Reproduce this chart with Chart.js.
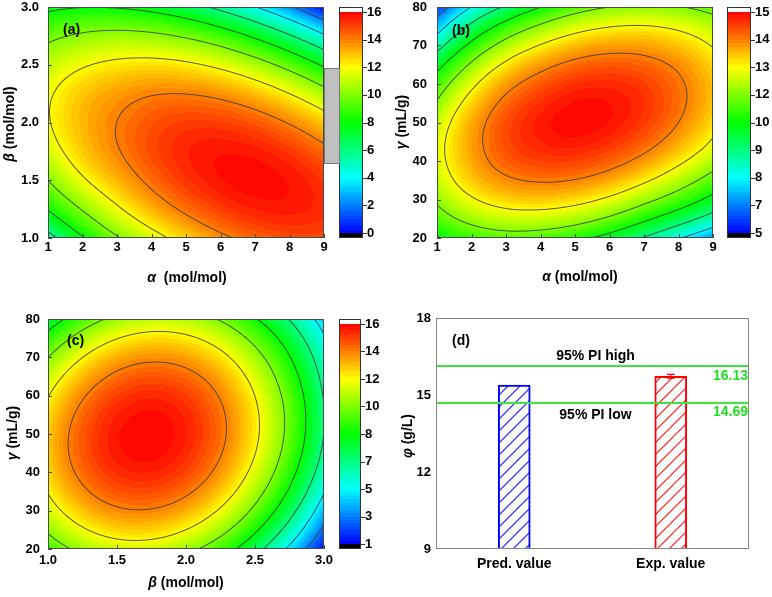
<!DOCTYPE html>
<html>
<head>
<meta charset="utf-8">
<script src="https://cdn.jsdelivr.net/npm/chart.js@4.4.1/dist/chart.umd.min.js"></script>
<style>
  html, body { margin: 0; padding: 0; background: #fff; }
  #wrap { position: relative; width: 772px; height: 597px; }
  canvas { position: absolute; }
</style>
</head>
<body>
<div id="wrap">
  <canvas id="chartA" width="390" height="300" style="left:0;top:0"></canvas>
  <canvas id="chartB" width="382" height="300" style="left:390px;top:0"></canvas>
  <canvas id="chartC" width="390" height="297" style="left:0;top:300px"></canvas>
  <canvas id="chartD" width="382" height="297" style="left:390px;top:300px"></canvas>
</div>
<script>
// ---- panel (a): phi over alpha (columns) and beta (rows, top to bottom)
const aAlpha = [1, 2, 3, 4, 5, 6, 7, 8, 9];
const aBeta = [3.0, 2.75, 2.5, 2.25, 2.0, 1.75, 1.5, 1.25, 1.0];
const aPhi = [
  [7.62, 7.95, 7.89, 7.47, 6.70, 5.56, 4.06, 2.21, 0.00],
  [9.60, 10.21, 10.44, 10.30, 9.80, 8.94, 7.72, 6.15, 4.21],
  [11.00, 11.85, 12.30, 12.44, 12.23, 11.65, 10.71, 9.41, 7.75],
  [11.80, 12.86, 13.50, 13.92, 13.98, 13.68, 13.02, 12.00, 10.62],
  [11.90, 13.10, 14.01, 14.71, 15.05, 15.03, 14.65, 13.91, 12.81],
  [11.30, 12.80, 13.90, 14.84, 15.46, 15.71, 15.61, 15.15, 14.33],
  [10.00, 11.80, 13.13, 14.30, 15.18, 15.72, 15.90, 15.71, 15.17],
  [8.10, 10.10, 11.77, 13.15, 14.25, 15.05, 15.51, 15.60, 15.34],
  [5.30, 7.86, 9.84, 11.35, 12.65, 13.70, 14.44, 14.81, 14.83]
];
const aXLabels = ['1', '2', '3', '4', '5', '6', '7', '8', '9'];
const aYLabels = ['1.0', '1.5', '2.0', '2.5', '3.0'];
const aBarLabels = ['0', '2', '4', '6', '8', '10', '12', '14', '16'];
const aRange = [0, 16];
const aLevels = [2, 4, 6, 8, 10, 12, 14];

// ---- panel (b): phi over alpha (columns) and gamma (rows, top to bottom)
const bAlpha = [1, 2, 3, 4, 5, 6, 7, 8, 9];
const bGamma = [80, 72.5, 65, 57.5, 50, 42.5, 35, 27.5, 20];
const bPhi = [
  [5.80, 7.81, 9.20, 10.29, 11.07, 11.55, 11.72, 11.59, 11.16],
  [7.90, 9.95, 11.36, 12.30, 12.94, 13.27, 13.30, 13.02, 12.44],
  [9.90, 11.70, 12.98, 13.77, 14.26, 14.44, 14.32, 13.90, 13.17],
  [11.30, 12.92, 14.04, 14.68, 15.03, 15.06, 14.80, 14.23, 13.40],
  [12.20, 13.60, 14.55, 15.05, 15.24, 15.13, 14.72, 14.05, 13.10],
  [12.50, 13.70, 14.51, 14.86, 14.91, 14.65, 14.12, 13.35, 12.40],
  [12.20, 13.30, 13.91, 14.12, 14.02, 13.62, 12.95, 12.10, 11.08],
  [11.40, 12.30, 12.77, 12.83, 12.58, 12.03, 11.22, 10.32, 9.30],
  [10.20, 10.80, 11.08, 10.99, 10.59, 9.90, 8.95, 7.89, 6.78]
];
const bXLabels = ['1', '2', '3', '4', '5', '6', '7', '8', '9'];
const bYLabels = ['20', '30', '40', '50', '60', '70', '80'];
const bBarLabels = ['5', '7', '8', '9', '10', '12', '13', '14', '15'];
const bRange = [5.3, 15.3];
const bLevels = [6.55, 7.8, 9.05, 10.3, 11.55, 12.8, 14.05];

// ---- panel (c): phi over beta (columns) and gamma (rows, top to bottom)
const cBeta = [1.0, 1.25, 1.5, 1.75, 2.0, 2.25, 2.5, 2.75, 3.0];
const cGamma = [80, 72.5, 65, 57.5, 50, 42.5, 35, 27.5, 20];
const cPhi = [
  [7.49, 9.47, 10.74, 11.29, 11.11, 10.22, 8.62, 6.55, 4.00],
  [9.73, 11.64, 12.84, 13.32, 13.08, 12.13, 10.45, 8.15, 5.30],
  [11.39, 13.24, 14.38, 14.79, 14.48, 13.46, 11.71, 9.25, 6.15],
  [12.49, 14.27, 15.33, 15.68, 15.30, 14.21, 12.40, 9.87, 6.62],
  [13.01, 14.72, 15.72, 15.99, 15.55, 14.39, 12.52, 9.92, 6.60],
  [12.95, 14.60, 15.53, 15.74, 15.23, 14.00, 12.06, 9.39, 6.01],
  [12.32, 13.90, 14.77, 14.91, 14.33, 13.04, 11.02, 8.29, 4.84],
  [11.12, 12.63, 13.43, 13.50, 12.86, 11.50, 9.42, 6.62, 3.15],
  [9.35, 10.79, 11.52, 11.53, 10.81, 9.38, 7.24, 4.40, 1.10]
];
const cXLabels = ['1.0', '1.5', '2.0', '2.5', '3.0'];
const cYLabels = ['20', '30', '40', '50', '60', '70', '80'];
const cBarLabels = ['1', '3', '5', '7', '8', '10', '12', '14', '16'];
const cRange = [1, 16];
const cLevels = [2.875, 4.75, 6.625, 8.5, 10.375, 12.25, 14.125];

// ---- panel (d): predicted vs experimental
const dLabels = ['Pred. value', 'Exp. value'];
const dValues = [15.39, 15.73];
const dErrors = [0, 0.07];
const dYLabels = ['9', '12', '15', '18'];
const piHigh = 16.13;
const piLow = 14.69;

const FONT = '"Liberation Sans", Arial, sans-serif';
Chart.defaults.font.family = FONT;
Chart.defaults.color = '#000';

// rainbow colour map like the colour bars
const stops = [[0, [0, 0, 255]], [0.25, [0, 255, 255]], [0.5, [0, 255, 0]], [0.75, [255, 255, 0]], [1, [255, 0, 0]]];
function rainbow(t) {
  t = Math.max(0, Math.min(1, t));
  for (let i = 1; i < stops.length; i++) {
    if (t <= stops[i][0]) {
      const [t0, c0] = stops[i - 1], [t1, c1] = stops[i];
      const f = (t - t0) / (t1 - t0);
      return [c0[0] + (c1[0] - c0[0]) * f, c0[1] + (c1[1] - c0[1]) * f, c0[2] + (c1[2] - c0[2]) * f];
    }
  }
  return stops[stops.length - 1][1];
}
function banded(t) {
  const n = 64;
  const q = Math.min(n - 1, Math.max(0, Math.floor(t * n)));
  return rainbow((q + 0.5) / n);
}

// grid node, extrapolated past the edges
function node(g, r, c) {
  const nr = g.length, nc = g[0].length;
  if (r < 0) return 3 * node(g, 0, c) - 3 * node(g, 1, c) + node(g, 2, c);
  if (r >= nr) return 3 * node(g, nr - 1, c) - 3 * node(g, nr - 2, c) + node(g, nr - 3, c);
  if (c < 0) return 3 * g[r][0] - 3 * g[r][1] + g[r][2];
  if (c >= nc) return 3 * g[r][nc - 1] - 3 * g[r][nc - 2] + g[r][nc - 3];
  return g[r][c];
}
function cubic(p0, p1, p2, p3, t) {
  return p1 + 0.5 * t * (p2 - p0 + t * (2 * p0 - 5 * p1 + 4 * p2 - p3 + t * (3 * (p1 - p2) + p3 - p0)));
}
function sample(g, fx, fy) {
  const nr = g.length, nc = g[0].length;
  const ix = Math.max(0, Math.min(nc - 2, Math.floor(fx)));
  const iy = Math.max(0, Math.min(nr - 2, Math.floor(fy)));
  const tx = fx - ix, ty = fy - iy;
  const r = [];
  for (let k = -1; k <= 2; k++) {
    r.push(cubic(node(g, iy + k, ix - 1), node(g, iy + k, ix), node(g, iy + k, ix + 1), node(g, iy + k, ix + 2), tx));
  }
  return cubic(r[0], r[1], r[2], r[3], ty);
}

function drawTitle(ctx, greek, rest, x, y, rotate) {
  ctx.save();
  ctx.translate(x, y);
  if (rotate) ctx.rotate(-Math.PI / 2);
  const gf = 'italic bold 14px ' + FONT, rf = 'bold 14px ' + FONT;
  ctx.font = gf; const gw = ctx.measureText(greek).width;
  ctx.font = rf; const rw = ctx.measureText(rest).width;
  const x0 = -(gw + rw) / 2;
  ctx.textBaseline = 'middle';
  ctx.textAlign = 'left';
  ctx.fillStyle = '#000';
  ctx.font = gf; ctx.fillText(greek, x0, 0);
  ctx.font = rf; ctx.fillText(rest, x0 + gw, 0);
  ctx.restore();
}

// keep label overhang from moving the plot area
function noPad(s) {
  s.paddingTop = 0; s.paddingBottom = 0; s.paddingLeft = 0; s.paddingRight = 0;
}

function contourPlugin(p) {
  return {
    id: 'contour',
    afterDraw(chart) {
      const { ctx, chartArea: a, scales: { x, y, cb } } = chart;
      const L = Math.round(a.left), T = Math.round(a.top);
      const W = Math.round(a.right) - L, H = Math.round(a.bottom) - T;
      const nc = p.cols.length, nr = p.rows.length;
      const F = new Float32Array(W * H);
      for (let j = 0; j < H; j++) {
        const yv = y.getValueForPixel(T + j + 0.5);
        const fy = (yv - p.rows[0]) / (p.rows[nr - 1] - p.rows[0]) * (nr - 1);
        for (let i = 0; i < W; i++) {
          const xv = x.getValueForPixel(L + i + 0.5);
          const fx = (xv - p.cols[0]) / (p.cols[nc - 1] - p.cols[0]) * (nc - 1);
          F[j * W + i] = sample(p.grid, fx, fy);
        }
      }
      const img = ctx.createImageData(W, H);
      for (let j = 0; j < H; j++) {
        for (let i = 0; i < W; i++) {
          const v = F[j * W + i];
          const c = banded((v - p.range[0]) / (p.range[1] - p.range[0]));
          const gx = (F[j * W + Math.min(i + 1, W - 1)] - F[j * W + Math.max(i - 1, 0)]) / 2;
          const gy = (F[Math.min(j + 1, H - 1) * W + i] - F[Math.max(j - 1, 0) * W + i]) / 2;
          const g = Math.hypot(gx, gy) + 1e-6;
          let al = 0;
          for (const lev of p.levels) {
            const d = Math.abs(v - lev) / g;
            if (d < 1) al = Math.max(al, 1 - d);
          }
          al *= 0.85;
          const k = (j * W + i) * 4;
          img.data[k] = c[0] * (1 - al) + 60 * al;
          img.data[k + 1] = c[1] * (1 - al) + 60 * al;
          img.data[k + 2] = c[2] * (1 - al) + 60 * al;
          img.data[k + 3] = 255;
        }
      }
      const off = document.createElement('canvas');
      off.width = W; off.height = H;
      off.getContext('2d').putImageData(img, 0, 0);
      ctx.drawImage(off, L, T);

      ctx.save();
      // frame and inward ticks
      ctx.strokeStyle = '#4a4a4a';
      ctx.lineWidth = 1;
      ctx.strokeRect(L + 0.5, T + 0.5, W - 1, H - 1);
      ctx.beginPath();
      x.ticks.forEach(t => {
        const px = Math.round(x.getPixelForValue(t.value)) + 0.5;
        ctx.moveTo(px, T + H); ctx.lineTo(px, T + H - 4);
      });
      y.ticks.forEach(t => {
        const py = Math.round(y.getPixelForValue(t.value)) + 0.5;
        ctx.moveTo(L, py); ctx.lineTo(L + 4, py);
      });
      ctx.stroke();

      // colour bar
      const bx = Math.round(a.right) + p.cbGap, bw = p.cbW;
      const n = p.cbLabels.length - 1;
      for (let yy = Math.round(cb.top); yy < Math.round(cb.bottom); yy++) {
        const idx = cb.getValueForPixel(yy + 0.5);
        if (idx > n) ctx.fillStyle = '#fff';
        else if (idx < 0) ctx.fillStyle = '#000';
        else { const c = banded(idx / n); ctx.fillStyle = `rgb(${c[0] | 0},${c[1] | 0},${c[2] | 0})`; }
        ctx.fillRect(bx, yy, bw, 1);
      }
      ctx.strokeStyle = '#333';
      ctx.strokeRect(bx + 0.5, Math.round(cb.top) + 0.5, bw - 1, Math.round(cb.bottom) - Math.round(cb.top) - 1);
      ctx.beginPath();
      cb.ticks.forEach(t => {
        const py = Math.round(cb.getPixelForValue(t.value)) + 0.5;
        ctx.moveTo(bx + bw, py); ctx.lineTo(bx + bw + 4, py);
      });
      ctx.stroke();

      if (p.grayBox) {
        ctx.fillStyle = '#c0c0c0';
        ctx.fillRect(Math.round(a.right) + 1, 68, p.cbGap - 1, 95);
        ctx.strokeStyle = '#7a7a7a';
        ctx.strokeRect(Math.round(a.right) + 0.5, 68.5, p.cbGap, 95);
      }

      // titles and panel tag
      drawTitle(ctx, p.xTitle[0], p.xTitle[1], (a.left + a.right) / 2 + p.xTitleDx, a.bottom + p.xTitleDy, false);
      drawTitle(ctx, p.yTitle[0], p.yTitle[1], p.yTitlePos[0], p.yTitlePos[1], true);
      ctx.fillStyle = '#000';
      ctx.font = 'bold 14px ' + FONT;
      ctx.textAlign = 'left';
      ctx.textBaseline = 'middle';
      ctx.fillText(p.tag, p.tagPos[0], p.tagPos[1]);
      ctx.restore();
    }
  };
}

function contourChart(id, p) {
  const tickFont = { size: 13, weight: 'bold', family: FONT };
  const W = document.getElementById(id).width;
  return new Chart(document.getElementById(id), {
    type: 'scatter',
    data: { datasets: [] },
    options: {
      responsive: false,
      animation: false,
      events: [],
      layout: { padding: { top: p.padTop, left: 0, right: 0, bottom: 0 } },
      plugins: { legend: { display: false }, tooltip: { enabled: false } },
      scales: {
        x: {
          type: 'linear', position: 'bottom',
          min: Math.min(...p.cols), max: Math.max(...p.cols),
          afterBuildTicks: s => { s.ticks = p.xLabels.map(l => ({ value: parseFloat(l) })); },
          ticks: { font: tickFont, color: '#000', padding: p.xTickPad, autoSkip: false, maxRotation: 0,
                   callback: (v, i) => p.xLabels[i] },
          grid: { display: false, drawTicks: false },
          border: { display: false },
          afterFit: s => { s.height = p.xAxisH; noPad(s); }
        },
        y: {
          type: 'linear', position: 'left',
          min: Math.min(...p.rows), max: Math.max(...p.rows),
          afterBuildTicks: s => { s.ticks = p.yLabels.map(l => ({ value: parseFloat(l) })); },
          ticks: { font: tickFont, color: '#000', padding: p.yTickPad, autoSkip: false,
                   callback: (v, i) => p.yLabels[i] },
          grid: { display: false, drawTicks: false },
          border: { display: false },
          afterFit: s => { s.width = p.yAxisW; noPad(s); }
        },
        cb: {
          axis: 'y', type: 'linear', position: 'right',
          min: -0.18, max: p.cbLabels.length - 1 + 0.18,
          afterBuildTicks: s => { s.ticks = p.cbLabels.map((l, i) => ({ value: i })); },
          ticks: { font: tickFont, color: '#000', padding: p.cbGap + p.cbW + 4, autoSkip: false,
                   callback: (v, i) => p.cbLabels[i] },
          grid: { display: false, drawTicks: false },
          border: { display: false },
          afterFit: s => { s.width = W - p.right; noPad(s); }
        }
      }
    },
    plugins: [contourPlugin(p)]
  });
}

contourChart('chartA', {
  cols: aAlpha, rows: aBeta, grid: aPhi, range: aRange, levels: aLevels,
  xLabels: aXLabels, yLabels: aYLabels, cbLabels: aBarLabels,
  padTop: 7, xAxisH: 62, yAxisW: 48, right: 324, xTickPad: 2, yTickPad: 9,
  cbGap: 15, cbW: 24, grayBox: true,
  xTitle: ['α', '  (mol/mol)'], xTitleDx: 1, xTitleDy: 40,
  yTitle: ['β', ' (mol/mol)'], yTitlePos: [10, 124],
  tag: '(a)', tagPos: [63, 30]
});
contourChart('chartB', {
  cols: bAlpha, rows: bGamma, grid: bPhi, range: bRange, levels: bLevels,
  xLabels: bXLabels, yLabels: bYLabels, cbLabels: bBarLabels,
  padTop: 7, xAxisH: 62, yAxisW: 47, right: 323, xTickPad: 2, yTickPad: 10,
  cbGap: 14, cbW: 24, grayBox: false,
  xTitle: ['α', ' (mol/mol)'], xTitleDx: 5, xTitleDy: 39,
  yTitle: ['γ', ' (mL/g)'], yTitlePos: [12, 122],
  tag: '(b)', tagPos: [62, 31]
});
contourChart('chartC', {
  cols: cBeta, rows: cGamma, grid: cPhi, range: cRange, levels: cLevels,
  xLabels: cXLabels, yLabels: cYLabels, cbLabels: cBarLabels,
  padTop: 19, xAxisH: 48, yAxisW: 48, right: 324, xTickPad: 4, yTickPad: 8,
  cbGap: 15, cbW: 22, grayBox: false,
  xTitle: ['β', ' (mol/mol)'], xTitleDx: 0, xTitleDy: 34,
  yTitle: ['γ', ' (mL/g)'], yTitlePos: [13, 133],
  tag: '(c)', tagPos: [67, 41]
});

// ---- panel (d)
function hatch(color) {
  const c = document.createElement('canvas');
  c.width = 12; c.height = 12;
  const g = c.getContext('2d');
  g.fillStyle = '#fff';
  g.fillRect(0, 0, 12, 12);
  g.strokeStyle = color;
  g.lineWidth = 1.2;
  g.beginPath();
  g.moveTo(-1, 13); g.lineTo(13, -1);
  g.moveTo(-1, 1); g.lineTo(1, -1);
  g.moveTo(11, 13); g.lineTo(13, 11);
  g.stroke();
  return g.createPattern(c, 'repeat');
}

const piPlugin = {
  id: 'pi',
  afterDatasetsDraw(chart) {
    const { ctx, chartArea: a, scales: { y } } = chart;
    ctx.save();
    // error bars
    const meta = chart.getDatasetMeta(0);
    ctx.strokeStyle = '#ff0000';
    ctx.lineWidth = 1.2;
    dErrors.forEach((e, i) => {
      if (!e) return;
      const bx = meta.data[i].x;
      const t = y.getPixelForValue(dValues[i] + e), b = y.getPixelForValue(dValues[i] - e);
      ctx.beginPath();
      ctx.moveTo(bx, t); ctx.lineTo(bx, b);
      ctx.moveTo(bx - 4, t); ctx.lineTo(bx + 4, t);
      ctx.moveTo(bx - 4, b); ctx.lineTo(bx + 4, b);
      ctx.stroke();
    });
    // prediction interval lines
    const yh = y.getPixelForValue(piHigh), yl = y.getPixelForValue(piLow);
    ctx.strokeStyle = '#3de63d';
    ctx.lineWidth = 2;
    ctx.beginPath();
    ctx.moveTo(a.left, yh); ctx.lineTo(a.right, yh);
    ctx.moveTo(a.left, yl); ctx.lineTo(a.right, yl);
    ctx.stroke();
    ctx.font = 'bold 14px ' + FONT;
    ctx.textBaseline = 'middle';
    ctx.textAlign = 'center';
    ctx.fillStyle = '#000';
    const cx = (a.left + a.right) / 2 + 3;
    ctx.fillText('95% PI high', cx, yh - 10);
    ctx.fillText('95% PI low', cx, yl + 12.5);
    ctx.textAlign = 'right';
    ctx.fillStyle = '#22dd22';
    ctx.fillText(piHigh.toFixed(2), a.right - 1, yh + 10);
    ctx.fillText(piLow.toFixed(2), a.right - 1, yl + 9);
    // frame
    ctx.strokeStyle = '#858585';
    ctx.lineWidth = 1;
    ctx.strokeRect(Math.round(a.left) + 0.5, Math.round(a.top) + 0.5,
                   Math.round(a.right - a.left) - 1, Math.round(a.bottom - a.top) - 1);
    ctx.fillStyle = '#000';
    ctx.textAlign = 'left';
    ctx.fillText('(d)', a.left + 16, a.top + 23.5);
    ctx.restore();
    drawTitle(ctx, 'φ', ' (g/L)', 18, 136, true);
  }
};

new Chart(document.getElementById('chartD'), {
  type: 'bar',
  data: {
    labels: dLabels,
    datasets: [{
      data: dValues,
      base: 9,
      backgroundColor: [hatch('#1a1aff'), hatch('#ff1a1a')],
      borderColor: ['#0000ff', '#ff0000'],
      borderWidth: 2,
      borderSkipped: 'start',
      barThickness: 32
    }]
  },
  options: {
    responsive: false,
    animation: false,
    events: [],
    layout: { padding: { top: 18, left: 0, right: 23, bottom: 0 } },
    plugins: { legend: { display: false }, tooltip: { enabled: false } },
    scales: {
      x: {
        offset: true,
        ticks: { font: { size: 14, weight: 'bold' }, color: '#000', padding: 7 },
        grid: { display: false, drawTicks: false },
        border: { display: false },
        afterFit: s => { s.height = 48; noPad(s); }
      },
      y: {
        min: 9, max: 18,
        afterBuildTicks: s => { s.ticks = dYLabels.map(l => ({ value: parseFloat(l) })); },
        ticks: { font: { size: 13, weight: 'bold' }, color: '#000', padding: 5,
                 callback: (v, i) => dYLabels[i] },
        grid: { display: false, drawTicks: false },
        border: { display: false },
        afterFit: s => { s.width = 46; noPad(s); }
      }
    }
  },
  plugins: [piPlugin]
});
</script>
</body>
</html>
